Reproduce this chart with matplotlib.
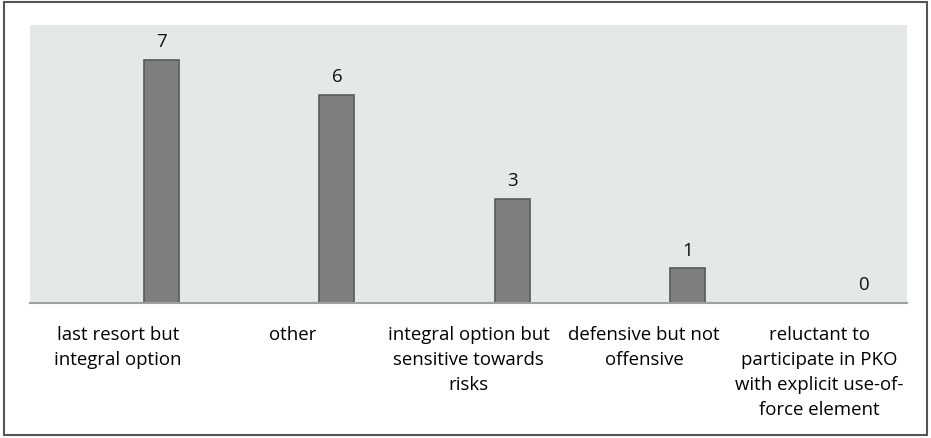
import matplotlib.pyplot as plt
from matplotlib.patches import Rectangle

categories = ['last resort but\nintegral option', 'other',
              'integral option but\nsensitive towards\nrisks',
              'defensive but not\noffensive',
              'reluctant to\nparticipate in PKO\nwith explicit use-of-\nforce element']
counts = [7, 6, 3, 1, 0]

plt.rcParams['font.family'] = ['Open Sans', 'DejaVu Sans']

fig = plt.figure(figsize=(9.31, 4.39), dpi=100)
ax = fig.add_axes([30/931, (439-304)/439, 877/931, 278/439])
ax.set_facecolor('#e6e7e7')

pos = [i + 0.25 for i in range(len(counts))]
bars = ax.bar(pos, counts, width=0.2, color='#7f7f7f', edgecolor='#595959', linewidth=1.2)
for x, v in zip(pos, counts):
    ax.annotate(str(v), (x, v), xytext=(0, 7), textcoords='offset points',
                ha='center', va='bottom', fontsize=13.4, color='#111111')

ax.set_xlim(-0.5, len(counts) - 0.5)
ax.set_ylim(0, 8)
ax.set_xticks(range(len(counts)))
ax.set_xticklabels(categories, fontsize=13.4, linespacing=1.5, va='top')
ax.tick_params(axis='x', length=0, pad=16)
ax.set_yticks([])
for s in ['top', 'left', 'right']:
    ax.spines[s].set_visible(False)
ax.spines['bottom'].set_color('#a0a0a0')
ax.spines['bottom'].set_linewidth(1.5)

fig.patches.append(Rectangle((4/931, 3/439), 923/931, 433/439, transform=fig.transFigure,
                             fill=False, edgecolor='#555555', linewidth=1.5))

fig.savefig('out.png', dpi=100)
